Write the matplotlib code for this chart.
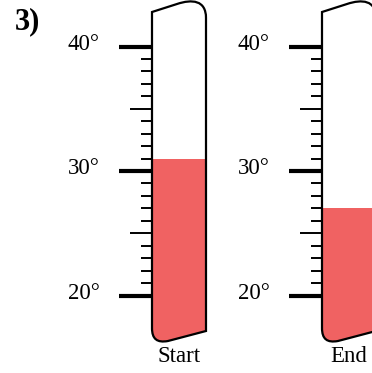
import matplotlib.pyplot as plt
from matplotlib.path import Path
from matplotlib.patches import PathPatch, Rectangle

# data
labels = ['Start', 'End']
temps = [31, 27]
scale_min = 20
scale_max = 40
tick_step = 1

fill_color = '#f06262'
font = 'Liberation Serif'

# layout (pixels, image is 372 x 373)
px_per_deg = 12.45
y30 = 171
tube_left = [152, 322]
tube_w = 54


def deg(y_px):
    # pixel row -> degrees, used for the tube outline only
    return 30 + (y30 - y_px) / px_per_deg


def tube_path(x0):
    x1 = x0 + tube_w
    verts = [
        (x0, deg(328)),
        (x0, deg(12)),
        (x0 + 25, deg(4)),
        (x0 + 40, deg(-1)), (x1, deg(0)), (x1, deg(18)),
        (x1, deg(331)),
        (x0 + 16, deg(341)),
        (x0 + 5, deg(343)), (x0, deg(339)), (x0, deg(328)),
        (x0, deg(328)),
    ]
    codes = [Path.MOVETO, Path.LINETO, Path.LINETO,
             Path.CURVE4, Path.CURVE4, Path.CURVE4,
             Path.LINETO, Path.LINETO,
             Path.CURVE4, Path.CURVE4, Path.CURVE4,
             Path.CLOSEPOLY]
    return Path(verts, codes)


fig = plt.figure(figsize=(3.72, 3.73), dpi=100)
ax = fig.add_axes([0, 0, 1, 1])
ax.set_xlim(0, 372)
ax.set_ylim(deg(373), deg(0))
ax.axis('off')

for x0, label, t in zip(tube_left, labels, temps):
    tube = PathPatch(tube_path(x0), facecolor='none', edgecolor='black',
                     lw=1.6, zorder=3)
    ax.add_patch(tube)

    level = Rectangle((x0, deg(373)), tube_w, t - deg(373),
                      facecolor=fill_color, edgecolor='none', zorder=2)
    ax.add_patch(level)
    level.set_clip_path(tube)

    for d in range(scale_min, scale_max + 1, tick_step):
        if d % 10 == 0:
            length, lw = 33, 3.0
            ax.text(x0 - 52, d + 0.2, f'{d}°', ha='right', va='center',
                    fontsize=16.5, family=font)
        elif d % 5 == 0:
            length, lw = 22, 1.4
        else:
            length, lw = 11, 1.4
        ax.plot([x0 - length, x0], [d, d], color='black', lw=lw,
                solid_capstyle='butt', zorder=3)

    ax.text(x0 + tube_w / 2, deg(357), label, ha='center', va='center',
            fontsize=16.5, family=font)

ax.text(15, deg(22), '3)', ha='left', va='center', fontsize=22,
        fontweight='bold', family=font)

fig.savefig('out.png', dpi=100)
